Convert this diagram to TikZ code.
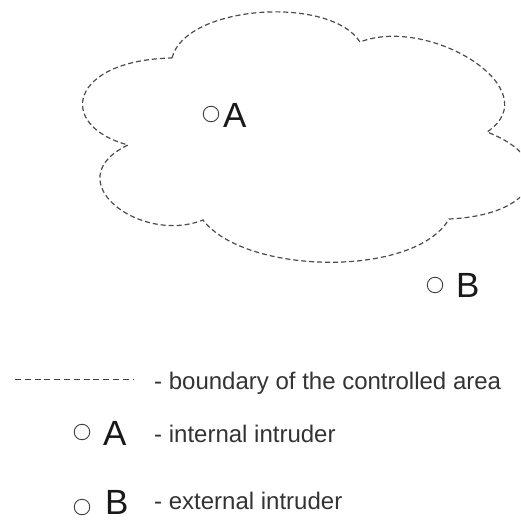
\documentclass[tikz,border=0pt]{standalone}
\usepackage{fontspec}
\setmainfont{Liberation Sans}
\begin{document}
\begin{tikzpicture}[x=1pt,y=-1pt,
  boundary/.style={draw=black!70,line width=1.2pt,dash pattern=on 5pt off 3pt},
  marker/.style={draw=black!75,line width=0.9pt,circle,minimum size=15.5pt,inner sep=0pt},
  letter/.style={anchor=base west,inner sep=0pt,font=\fontsize{35}{35}\selectfont,text=black!90},
  legendtext/.style={anchor=base west,inner sep=0pt,font=\fontsize{24}{24}\selectfont,text=black!80}]
\useasboundingbox (0,0) rectangle (520,521);
\begin{scope}
\clip (0,0) rectangle (520,521);
% junctions between the lobes of the cloud
\coordinate (j1) at (172,58);
\coordinate (j2) at (360,42);
\coordinate (j3) at (487,132);
\coordinate (j4) at (449,219);
\coordinate (j5) at (203,220);
\coordinate (j6) at (128,145);
% controlled area
\draw[boundary] (j1) .. controls (185,5) and (330,-5) .. (j2)
  .. controls (430,15) and (550,90) .. (j3)
  .. controls (560,160) and (540,215) .. (j4)
  .. controls (415,278) and (245,275) .. (j5)
  .. controls (140,245) and (55,180) .. (j6)
  .. controls (55,125) and (70,60) .. (j1);
\end{scope}
% intruders
\node[marker] (ca) at (211,114) {};
\node[letter] (la) at (223,128) {A};
\node[marker] (cb) at (435,285) {};
\node[letter] (lb) at (456,297) {B};
% legend
\coordinate (d1) at (15,379);
\coordinate (d2) at (133,379);
\draw[draw=black!75,line width=0.9pt,dash pattern=on 6pt off 3.8pt] (d1) -- (d2);
\node[legendtext] (t1) at (154,389) {- boundary of the controlled area};
\node[marker] (lca) at (82,432) {};
\node[letter] (lla) at (103,445) {A};
\node[legendtext] (t2) at (154,442) {- internal intruder};
\node[marker] (lcb) at (82,507) {};
\node[letter] (llb) at (105,514) {B};
\node[legendtext] (t3) at (154,509) {- external intruder};
\end{tikzpicture}
\end{document}
